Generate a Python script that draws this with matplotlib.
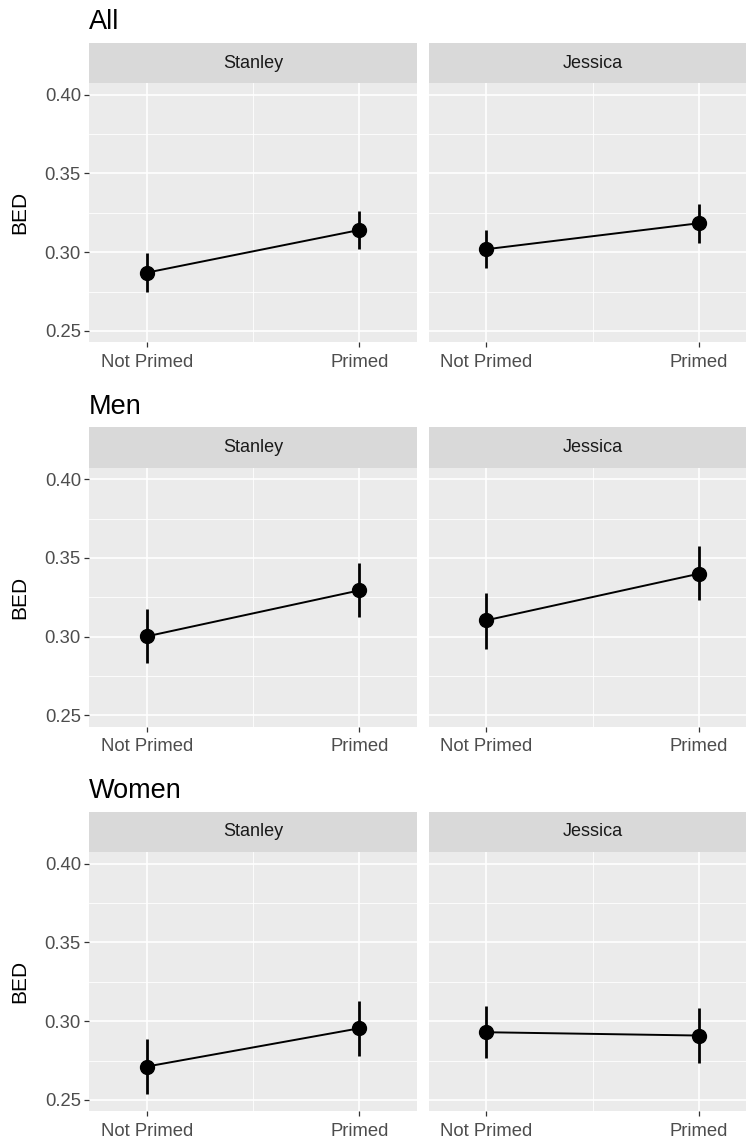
import matplotlib

matplotlib.use("Agg")

import matplotlib.pyplot as plt

plt.rcParams["font.family"] = ["Liberation Sans", "DejaVu Sans"]

# data (mean and interval ends per condition)
groups = ["All", "Men", "Women"]
facets = ["Stanley", "Jessica"]
conditions = ["Not Primed", "Primed"]

all_stanley_mean = [0.2870, 0.3141]
all_stanley_lo = [0.2746, 0.3020]
all_stanley_hi = [0.2993, 0.3264]
all_jessica_mean = [0.3019, 0.3184]
all_jessica_lo = [0.2898, 0.3059]
all_jessica_hi = [0.3141, 0.3306]

men_stanley_mean = [0.3002, 0.3294]
men_stanley_lo = [0.2832, 0.3125]
men_stanley_hi = [0.3178, 0.3468]
men_jessica_mean = [0.3104, 0.3400]
men_jessica_lo = [0.2924, 0.3231]
men_jessica_hi = [0.3280, 0.3574]

women_stanley_mean = [0.2712, 0.2955]
women_stanley_lo = [0.2538, 0.2782]
women_stanley_hi = [0.2888, 0.3131]
women_jessica_mean = [0.2930, 0.2909]
women_jessica_lo = [0.2765, 0.2733]
women_jessica_hi = [0.3098, 0.3085]

y_ticks = [0.25, 0.30, 0.35, 0.40]
y_minor = [0.275, 0.325, 0.375]

series = {
    ("All", "Stanley"): (all_stanley_mean, all_stanley_lo, all_stanley_hi),
    ("All", "Jessica"): (all_jessica_mean, all_jessica_lo, all_jessica_hi),
    ("Men", "Stanley"): (men_stanley_mean, men_stanley_lo, men_stanley_hi),
    ("Men", "Jessica"): (men_jessica_mean, men_jessica_lo, men_jessica_hi),
    ("Women", "Stanley"): (women_stanley_mean, women_stanley_lo, women_stanley_hi),
    ("Women", "Jessica"): (women_jessica_mean, women_jessica_lo, women_jessica_hi),
}

W, H = 746, 1141
PANEL_BG = "#EBEBEB"
STRIP_BG = "#D9D9D9"


def fig_rect(x, y_top, w, h):
    # pixel box (from top-left) -> figure fraction
    return [x / W, 1 - (y_top + h) / H, w / W, h / H]


fig = plt.figure(figsize=(W / 100, H / 100), dpi=100)

row_step = 384.5
panel_x = [89, 428.7]
panel_w = 328
strip_h = 40
panel_h = 259

for i, grp in enumerate(groups):
    strip_top = 43 + i * row_step
    panel_top = strip_top + strip_h
    fig.text(89 / W, 1 - (29 + i * row_step) / H, grp, fontsize=19.5,
             ha="left", va="baseline", color="black")
    fig.text(20 / W, 1 - (panel_top + panel_h / 2) / H, "BED", fontsize=15,
             rotation=90, ha="center", va="center", color="black")

    for j, name in enumerate(facets):
        sax = fig.add_axes(fig_rect(panel_x[j], strip_top, panel_w, strip_h))
        sax.set_facecolor(STRIP_BG)
        sax.set_xticks([])
        sax.set_yticks([])
        for sp in sax.spines.values():
            sp.set_visible(False)
        sax.text(0.5, 0.5, name, transform=sax.transAxes, ha="center",
                 va="center", fontsize=13, color="#1A1A1A")

        ax = fig.add_axes(fig_rect(panel_x[j], panel_top, panel_w, panel_h))
        ax.set_facecolor(PANEL_BG)
        for sp in ax.spines.values():
            sp.set_visible(False)
        ax.set_axisbelow(True)

        mean, lo, hi = series[(grp, name)]
        xs = [1, 2]
        ax.plot(xs, mean, color="black", lw=1.4, zorder=3)
        ax.vlines(xs, lo, hi, color="black", lw=2.0, zorder=3)
        ax.plot(xs, mean, "o", color="black", ms=10, zorder=4)

        ax.set_xlim(1 - 0.271, 2 + 0.271)
        ax.set_ylim(0.243, 0.4074)
        ax.set_xticks(xs, conditions)
        ax.set_xticks([1.5], minor=True)
        ax.set_yticks(y_ticks, [f"{v:.2f}" for v in y_ticks])
        ax.set_yticks(y_minor, minor=True)
        ax.grid(which="major", color="white", lw=1.2)
        ax.grid(which="minor", color="white", lw=0.6)
        ax.tick_params(which="minor", length=0)
        ax.tick_params(which="major", length=3.6, width=0.9, color="#333333",
                       labelsize=13.3, labelcolor="#4D4D4D", pad=2.2)
        ax.tick_params(axis="x", which="major", pad=5.0)
        if j == 1:
            ax.tick_params(axis="y", which="major", length=0, labelleft=False)

fig.savefig("out.png", dpi=100)
plt.close(fig)
